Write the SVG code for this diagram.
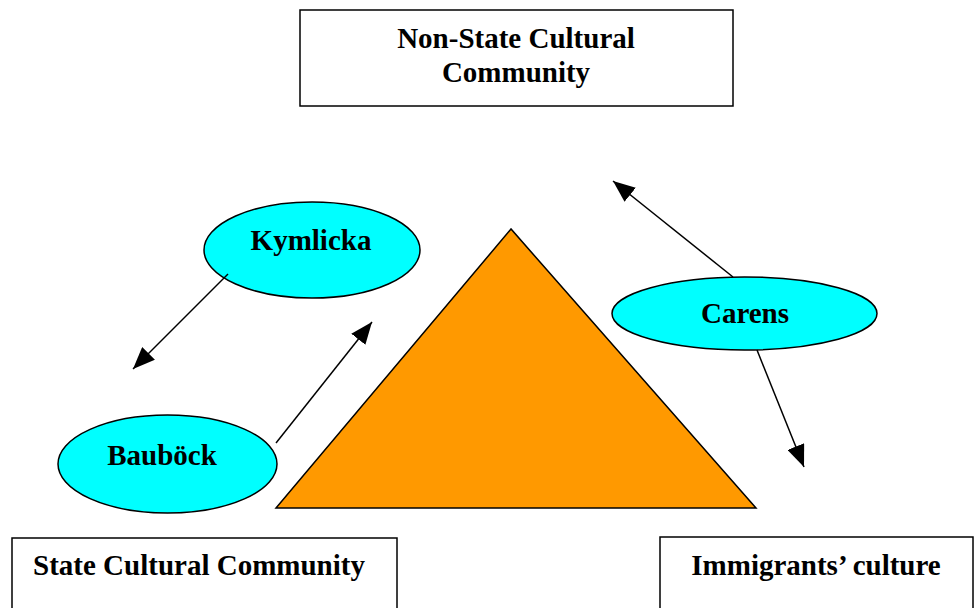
<svg xmlns="http://www.w3.org/2000/svg" width="975" height="608" viewBox="0 0 975 608">
<style>
.box{fill:#fff;stroke:#000;stroke-width:1.5}
.ell{fill:#00ffff;stroke:#000;stroke-width:1.5}
.lbl{font-family:"Liberation Serif","Times New Roman",serif;font-weight:bold;font-size:29px;fill:#000;text-anchor:middle}
.con{stroke:#000;stroke-width:1.5;fill:none;marker-end:url(#ah)}
</style>
<defs>
<marker id="ah" markerUnits="userSpaceOnUse" markerWidth="24" markerHeight="18" refX="22" refY="9" orient="auto">
<path d="M0,0 L22,9 L0,18 Z" fill="#000"/>
</marker>
</defs>
<rect width="975" height="608" fill="#fff"/>
<g id="non-state">
<rect class="box" x="300" y="10" width="433" height="96"/>
<text class="lbl" x="516" y="48">Non-State Cultural</text>
<text class="lbl" x="516" y="82">Community</text>
</g>
<g id="state">
<rect class="box" x="12" y="538" width="385" height="80"/>
<text class="lbl" x="199" y="575">State Cultural Community</text>
</g>
<g id="immigrants">
<rect class="box" x="660" y="537" width="313" height="80"/>
<text class="lbl" x="816" y="575">Immigrants’ culture</text>
</g>
<g id="triangle">
<polygon points="511,229 276,508 756,508" fill="#ff9900" stroke="#000" stroke-width="1.5"/>
</g>
<g id="kymlicka">
<ellipse class="ell" cx="312" cy="250" rx="108" ry="48"/>
<text class="lbl" x="311" y="250">Kymlicka</text>
</g>
<g id="baubock">
<ellipse class="ell" cx="167.5" cy="464" rx="109.5" ry="49"/>
<text class="lbl" x="162" y="465">Bauböck</text>
</g>
<g id="carens">
<ellipse class="ell" cx="744.5" cy="313.5" rx="132.5" ry="36.5"/>
<text class="lbl" x="745" y="323">Carens</text>
</g>
<g id="connectors">
<line class="con" x1="228" y1="274" x2="133" y2="369"/>
<line class="con" x1="276" y1="443" x2="372" y2="322"/>
<line class="con" x1="733" y1="277" x2="613" y2="181"/>
<line class="con" x1="757" y1="350" x2="804" y2="467"/>
</g>
</svg>
